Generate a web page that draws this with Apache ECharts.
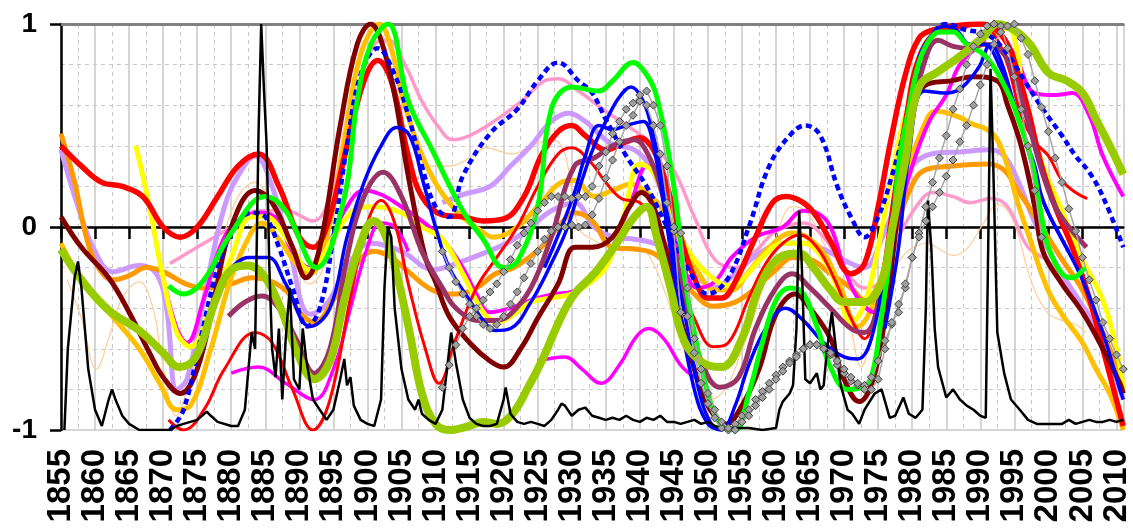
<!DOCTYPE html>
<html>
<head>
<meta charset="utf-8">
<script src="https://cdn.jsdelivr.net/npm/echarts@6/dist/echarts.min.js"></script>
<style>
  html, body { margin: 0; padding: 0; background: #fff; }
  #chart { width: 1133px; height: 529px; }
</style>
</head>
<body>
<div id="chart"></div>
<script>
// axis ranges and tick labels
const yearMin = 1855
const yearMax = 2011
const yTicks = [-1, 0, 1]

// black spiky series [year, value]
const blackLine = [
  [1855.5,-1],[1856,-0.6],[1857,-0.25],[1857.5,-0.17],[1858,-0.3],[1859,-0.7],[1860,-0.9],[1861,-0.98],[1862,-0.85],[1862.5,-0.8],
  [1863,-0.85],[1864,-0.93],[1865,-0.97],[1866.5,-1],[1871,-1],[1872,-0.98],[1873,-0.97],[1874,-0.96],[1875,-0.95],[1876.4,-0.91],
  [1877,-0.93],[1878,-0.96],[1880,-0.98],[1881,-0.98],[1882,-0.9],[1883,-0.52],[1883.5,-0.6],[1884,0.45],[1884.4,1],[1884.8,0.68],
  [1885.2,0.4],[1885.6,-0.2],[1886,-0.6],[1886.5,-0.74],[1887,-0.5],[1887.5,-0.85],[1888,-0.55],[1888.6,-0.3],[1889.2,-0.75],[1890,-0.8],
  [1890.5,-0.5],[1891,-0.65],[1892,-0.85],[1893,-0.9],[1894,-0.95],[1895,-0.9],[1896,-0.75],[1896.6,-0.65],[1897,-0.78],[1897.5,-0.74],
  [1898,-0.88],[1899,-0.95],[1900,-0.97],[1901,-0.98],[1902,-0.85],[1902.5,-0.3],[1903,0],[1903.5,-0.05],[1904,-0.4],[1905,-0.7],
  [1906,-0.85],[1907,-0.9],[1907.5,-0.85],[1908,-0.92],[1909,-0.95],[1910,-0.97],[1911,-0.9],[1912.3,-0.52],[1913,-0.67],[1914,-0.85],
  [1915,-0.94],[1916,-0.97],[1917,-0.98],[1918,-0.98],[1919,-0.97],[1920,-0.85],[1920.3,-0.79],[1921,-0.92],[1922,-0.96],[1923,-0.97],
  [1924,-0.96],[1925,-0.97],[1926,-0.98],[1927,-0.95],[1928,-0.9],[1928.5,-0.87],[1929,-0.88],[1930,-0.93],[1931,-0.9],[1932,-0.89],
  [1933,-0.93],[1934,-0.94],[1935,-0.95],[1936,-0.94],[1937,-0.95],[1938,-0.93],[1939,-0.95],[1940,-0.96],[1941,-0.94],[1942,-0.95],
  [1943,-0.93],[1944,-0.96],[1945,-0.96],[1946,-0.97],[1947,-0.96],[1948,-0.95],[1949,-0.97],[1950,-0.96],[1951,-0.98],[1952,-0.99],
  [1954,-0.99],[1956,-0.99],[1958,-1],[1960,-0.99],[1960.5,-0.9],[1961,-0.86],[1962,-0.82],[1962.5,-0.78],[1963,-0.5],[1963.4,0.08],
  [1963.8,-0.2],[1964.3,-0.75],[1965,-0.77],[1966,-0.72],[1966.5,-0.8],[1967,-0.78],[1967.5,-0.6],[1968.2,-0.42],[1968.8,-0.6],[1969.5,-0.78],
  [1970.5,-0.9],[1971.2,-0.92],[1972.2,-0.97],[1973,-0.9],[1974.5,-0.82],[1975.5,-0.8],[1976.7,-0.94],[1977.5,-0.93],[1978.7,-0.84],[1979.5,-0.92],
  [1980.5,-0.94],[1981.5,-0.9],[1982,-0.4],[1982.3,0.13],[1982.8,-0.1],[1983.3,-0.5],[1983.8,-0.69],[1985,-0.84],[1986,-0.8],[1987,-0.85],
  [1988,-0.88],[1989,-0.9],[1990,-0.93],[1990.8,-0.94],[1991.2,0],[1991.5,0.78],[1991.9,0.3],[1992.5,-0.52],[1993.5,-0.72],[1994.5,-0.85],
  [1995.8,-0.9],[1997,-0.95],[1998.3,-0.97],[2000,-0.97],[2002,-0.97],[2003,-0.95],[2004,-0.97],[2005,-0.96],[2006,-0.95],[2007,-0.96],
  [2008,-0.96],[2009,-0.95],[2010,-0.96],[2011,-0.95]
]

// gray diamond series, one value per year
const grayAStart = 1911
const grayA = [
  -0.12,-0.2,-0.27,-0.33,-0.38,-0.44,-0.48,-0.5,-0.48,-0.44,
  -0.38,-0.32,-0.25,-0.18,-0.12,-0.06,-0.02,0,0,0.01,
  0,0.01,0.06,0.14,0.24,0.33,0.42,0.5,0.55,0.62,
  0.6,0.5,0.36,0.12,-0.02,-0.42,-0.44,-0.62,-0.77,-0.87,
  -0.94,-0.99,-1,-0.97,-0.93,-0.9,-0.85,-0.81,-0.77,-0.73,
  -0.69,-0.66,-0.63,-0.6,-0.58,-0.58,-0.6,-0.63,-0.68,-0.72,
  -0.76,-0.78,-0.78,-0.74,-0.66,-0.56,-0.48,-0.38,-0.3,-0.15,
  -0.03,0.1,0.22,0.34,0.45,0.58,0.68,0.8,0.89,0.95,
  0.99,1,0.99,0.88,0.74,0.58,0.4,0.18,-0.05
]
const grayBStart = 1911
const grayB = [
  -0.79,-0.68,-0.58,-0.5,-0.44,-0.4,-0.36,-0.32,-0.28,-0.22,
  -0.16,-0.09,-0.03,0.02,0.08,0.12,0.15,0.15,0.15,0.14,
  0.15,0.15,0.2,0.3,0.37,0.46,0.52,0.58,0.61,0.65,
  0.67,0.6,0.5,0.3,0,-0.03,-0.3,-0.55,-0.7,-0.82,
  -0.9,-0.96,-0.99,-1,-0.96,-0.93,-0.88,-0.84,-0.8,-0.75,
  -0.71,-0.67,-0.64,-0.6,-0.58,-0.58,-0.6,-0.62,-0.66,-0.7,
  -0.74,-0.77,-0.8,-0.8,-0.75,-0.6,-0.47,-0.42,-0.28,-0.15,
  -0.05,0.03,0.1,0.17,0.25,0.33,0.42,0.5,0.6,0.7,
  0.8,0.9,0.96,0.99,1,0.93,0.85,0.72,0.59,0.47,
  0.34,0.22,0.09,-0.02,-0.15,-0.26,-0.36,-0.47,-0.55,-0.63,
  -0.7
]

// smooth series [year, value]
const peach = [
  [1855.9,-0.26],[1858,-0.45],[1860.2,-0.7],[1862,-0.55],[1864,-0.35],[1866.5,-0.27],[1868.5,-0.4],[1870,-0.69],[1871.9,-0.93],[1873.5,-0.8],
  [1876,-0.5],[1878.5,-0.1],[1881,0.15],[1883.5,0.22],[1886,0.1],[1889,-0.15],[1891.5,-0.28],[1893.5,-0.2],[1896,0.38],[1898.5,0.8],
  [1901,0.98],[1903.5,0.85],[1906,0.55],[1909,0.3],[1912,0.3],[1915,0.34],[1917.4,0.39],[1921.3,0.36],[1924,0.4],[1927.1,0.43],
  [1929,0.36],[1931,0],[1933.5,-0.07],[1936.5,-0.1],[1939.6,-0.1],[1941.5,-0.15],[1944,-0.35],[1946.4,-0.6],[1948.3,-0.79],[1950.2,-0.85],
  [1952.5,-0.8],[1954.5,-0.65],[1957.5,-0.36],[1960.5,0],[1962.4,0.1],[1964.3,0.08],[1966.3,-0.03],[1969,-0.25],[1971,-0.5],[1972.5,-0.69],
  [1974,-0.55],[1976.5,-0.28],[1979,-0.13],[1982.3,-0.08],[1984,-0.11],[1986.1,-0.14],[1988.2,-0.1],[1990.5,0.02],[1992.5,0.11],[1994,0.08],
  [1995.5,-0.03],[1997.3,-0.25],[1999.8,-0.42],[2002,-0.46],[2004,-0.48],[2005.5,-0.52]
]
const pink = [
  [1871,-0.18],[1875,-0.1],[1880,0],[1884,0.08],[1888,0.08],[1892,0.03],[1895,0.2],[1898,0.6],[1901,0.9],[1903,0.92],
  [1905.5,0.8],[1908,0.62],[1910.5,0.49],[1912.5,0.43],[1915,0.45],[1919,0.53],[1923,0.63],[1926,0.72],[1928,0.73],[1931,0.67],
  [1935,0.57],[1939,0.48],[1942,0.4],[1945,0.28],[1948,0.05],[1951,-0.16],[1954,-0.2],[1957,-0.12],[1960,-0.02],[1964,0.02],
  [1967,-0.05],[1970,-0.2],[1973,-0.3],[1976,-0.25],[1978,-0.05],[1981,0.12],[1983,0.17],[1986,0.15],[1988.5,0.12],[1991.5,0.14],
  [1994,0.1],[1997,-0.1],[2000,-0.17],[2003,-0.3],[2006,-0.43],[2008,-0.6],[2010.5,-0.77],[2011,-0.82]
]
const lavA = [
  [1855,0.38],[1857.5,0.1],[1860,-0.12],[1862.6,-0.22],[1866.5,-0.19],[1869,-0.23],[1870.5,-0.4],[1872,-0.8],[1873.5,-0.75],[1876,-0.35],
  [1879,0.1],[1881.5,0.28],[1883.5,0.35],[1886,0.2],[1888.5,-0.1],[1891.6,-0.43],[1894,-0.38],[1897,-0.2],[1900.5,-0.08],[1905,-0.12],
  [1909.7,-0.21],[1913,-0.18],[1917,-0.13],[1921,-0.07],[1924,0],[1927,0.08],[1930.4,0.12],[1933.3,0],[1936.2,-0.05],[1939.2,-0.06],
  [1942,-0.08],[1945,-0.13],[1948,-0.22],[1950.8,-0.3],[1954,-0.23],[1957.5,-0.13],[1961.4,-0.08],[1964,-0.08],[1967,-0.11],[1971,-0.18],
  [1973,-0.2],[1975.5,-0.06],[1977.8,0.13],[1980,0.3],[1982.8,0.36],[1987,0.37],[1991.5,0.38],[1993.5,0.35],[1995.5,0.23],[1998.3,0],
  [2002,-0.23],[2005,-0.39],[2008,-0.57],[2010.4,-0.79],[2011,-0.85]
]
const lavB = [
  [1911,0.12],[1914,0.16],[1918,0.2],[1921,0.3],[1924,0.4],[1927,0.52],[1929.5,0.56],[1932,0.52],[1935.8,0.41],[1939.2,0.38],
  [1941.5,0.3],[1943.5,0.15],[1945.5,0],[1948,-0.2]
]
const orange = [
  [1855,0.46],[1857,0.22],[1858.8,-0.06],[1860.5,-0.2],[1862.6,-0.26],[1865,-0.24],[1867.5,-0.2],[1870,-0.22],[1873.3,-0.28],[1876,-0.3],
  [1880,-0.28],[1883,-0.25],[1886,-0.27],[1888.5,-0.33],[1890,-0.42],[1892.2,-0.47],[1895,-0.36],[1898,-0.2],[1900.9,-0.12],[1903.5,-0.15],
  [1906,-0.22],[1909.5,-0.31],[1913,-0.33],[1916,-0.3],[1918.8,-0.23],[1921.5,-0.2],[1925.5,-0.1],[1928.5,0.02],[1930.4,0.07],[1933,0.03],
  [1936,-0.1],[1939.5,-0.11],[1942,-0.13],[1945,-0.21],[1948,-0.33],[1950.8,-0.39],[1954,-0.37],[1957,-0.3],[1960,-0.21],[1962.4,-0.15],
  [1965,-0.16],[1968,-0.23],[1971,-0.3],[1973,-0.36],[1975.5,-0.25],[1977.5,-0.03],[1979.5,0.17],[1981.8,0.28],[1986,0.3],[1991,0.31],
  [1993.5,0.28],[1995.5,0.18],[1997.5,0.08],[1999.2,-0.01],[2002,-0.16],[2005,-0.31],[2008,-0.52],[2010.4,-0.72],[2011,-0.8]
]
const gold = [
  [1855,-0.08],[1858,-0.26],[1862,-0.42],[1866.5,-0.6],[1869.5,-0.77],[1872,-0.9],[1874,-0.88],[1877,-0.6],[1880,-0.25],[1882.9,-0.03],
  [1884.4,0.02],[1887,-0.06],[1889.5,-0.18],[1891.6,-0.23],[1894,-0.05],[1896.5,0.4],[1899,0.85],[1901.8,1],[1903.5,0.88],[1905.3,0.62],
  [1909,0.28],[1913,0.08],[1916.3,-0.01],[1918.5,-0.05],[1922,0],[1925.5,0.12],[1928.5,0.22],[1930.4,0.23],[1933.3,0.15],[1936,0.18],
  [1938.7,0.21],[1941,0.17],[1943.5,0.08],[1946,-0.06],[1948.5,-0.22],[1951,-0.31],[1953.5,-0.31],[1956,-0.22],[1959,-0.1],[1962.4,-0.03],
  [1964.5,-0.05],[1967,-0.13],[1969.5,-0.3],[1972,-0.49],[1974.5,-0.36],[1977,-0.03],[1979.5,0.3],[1982.3,0.54],[1983.5,0.57],[1987,0.54],
  [1988.6,0.51],[1991,0.48],[1992.5,0.43],[1994,0.3],[1995.4,0.13],[1997.3,-0.06],[1999.8,-0.3],[2002,-0.43],[2005,-0.57],[2007,-0.7],
  [2009,-0.82],[2010.5,-0.95],[2011,-1]
]
const yellow = [
  [1866,0.4],[1868,0.1],[1870,-0.25],[1872,-0.52],[1874,-0.59],[1877,-0.4],[1880,-0.15],[1883,0.05],[1885,0.05],[1888,-0.05],
  [1891.5,-0.21],[1895,-0.05],[1898,0.08],[1901,0.1],[1905,0.07],[1908,0],[1911,-0.06],[1914,-0.23],[1917,-0.42],[1919,-0.47],
  [1921.5,-0.43],[1924,-0.37],[1927,-0.35],[1930,-0.33],[1932,-0.29],[1935,-0.2],[1937.5,0.03],[1940,0.31],[1942,0.27],[1944,0.1],
  [1946,-0.05],[1948,-0.16],[1951,-0.26],[1953,-0.29],[1955,-0.26],[1958,-0.15],[1961,-0.08],[1964,-0.08],[1967,-0.16],[1969,-0.3],
  [1971,-0.47],[1973,-0.38],[1975,-0.1],[1977,0.25],[1979,0.55],[1981,0.68],[1983.5,0.76],[1985.7,0.81],[1988,0.87],[1990,0.92],
  [1992,0.95],[1994,0.98],[1995.5,0.85],[1996.3,0.63],[1999.2,0.3],[2002,0.08],[2005,-0.16],[2008,-0.36],[2010,-0.6],[2011,-0.8]
]
const magentaLow = [
  [1880,-0.72],[1884,-0.69],[1888,-0.77],[1892.2,-0.85],[1895,-0.7],[1897.5,-0.4],[1900,-0.1],[1902,0.02],[1904,0],[1906,-0.12],
  [1915,null],
  [1925,-0.66],[1929,-0.64],[1931.5,-0.7],[1934.3,-0.77],[1937,-0.68],[1939.5,-0.54],[1941.3,-0.5],[1943.5,-0.55],[1946,-0.68],[1948,-0.74]
]
const magenta = [
  [1866,0.4],[1868,0.1],[1870,-0.25],[1872,-0.5],[1873.5,-0.57],[1876,-0.35],[1879,-0.05],[1882,0.05],[1884.5,0.07],[1887,0.03],
  [1889,-0.12],[1891.5,-0.2],[1894,-0.1],[1897,0.1],[1899.5,0.18],[1902,0.16],[1905,0.1],[1908,0.03],[1911,-0.06],[1914,-0.2],
  [1916,-0.33],[1918,-0.42],[1921,-0.4],[1924,-0.36],[1927.5,-0.33],[1930,-0.32],[1933,-0.26],[1936,-0.1],[1939,0.15],[1941,0.3],
  [1943,0.2],[1946,-0.15],[1948.5,-0.3],[1951,-0.27],[1953.5,-0.15],[1957,-0.05],[1961,0],[1964,0.08],[1966,0.07],[1968,0],
  [1970,-0.2],[1972,-0.35],[1974.5,-0.42],[1976,-0.3],[1978,0.05],[1980,0.3],[1982.5,0.52],[1985,0.65],[1987,0.8],[1990,0.9],
  [1992,0.96],[1995,0.85],[1998,0.66],[2001,0.65],[2003.5,0.66],[2006,0.55],[2008,0.35],[2011,0.15]
]
const redThin = [
  [1870.8,-0.95],[1873,-1],[1876,-0.9],[1879,-0.7],[1883.5,-0.52],[1886,-0.57],[1889,-0.8],[1892,-1],[1894.5,-0.85],[1897.5,-0.35],
  [1900,0.02],[1902,0.13],[1904,0.02],[1906,-0.28],[1908.5,-0.6],[1910.5,-0.77],[1913,-0.55],[1916,-0.3],[1919,-0.15],[1922,0],
  [1925,0.2],[1928,0.36],[1930,0.39],[1932.5,0.33],[1935,0.22],[1937.3,0.14],[1940,0.12],[1942.5,0.02],[1945,-0.2],[1948,-0.45],
  [1950.8,-0.59],[1953,-0.57],[1956,-0.35],[1958.5,-0.18],[1961,-0.08],[1963.5,-0.04],[1966,-0.1],[1968.5,-0.25],[1971,-0.45],[1973,-0.55],
  [1975,-0.35],[1977,0.1],[1979,0.55],[1981,0.85],[1984,0.97],[1987,0.98],[1990,1],[1992,0.95],[1994,0.8],[1996,0.55],
  [1998,0.42],[2000,0.35],[2002,0.23],[2004,0.17],[2005.7,0.14]
]
const redSq = [
  [1855,0.4],[1858,0.3],[1861,0.22],[1864,0.2],[1867,0.15],[1870,0],[1872.5,-0.05],[1875,0],[1878,0.15],[1881,0.3],
  [1884,0.36],[1887,0.2],[1890,-0.05],[1892,-0.1],[1894,0],[1897,0.4],[1899.5,0.72],[1901.5,0.82],[1903.5,0.72],[1906,0.35],
  [1908,0.15],[1911,0.06],[1914,0.05],[1917,0.03],[1920,0.04],[1923,0.15],[1925.5,0.35],[1928,0.47],[1930,0.5],[1932,0.45],
  [1935,0.38],[1938,0.42],[1940,0.44],[1942,0.38],[1944,0.2],[1946,-0.05],[1948,-0.25],[1950,-0.35],[1952,-0.35],[1954,-0.27],
  [1957,-0.05],[1959.5,0.12],[1961.5,0.15],[1964,0.12],[1966,0.05],[1968,-0.07],[1971,-0.23],[1973,-0.18],[1975,0.1],[1977,0.45],
  [1979,0.75],[1981,0.93],[1983,0.97],[1986,0.99],[1990,1],[1992,0.98],[1994,0.9],[1995.5,0.76],[1997,0.58],[1999,0.3],
  [2001,0.1],[2003.5,-0.1],[2006,-0.35],[2008,-0.6],[2011,-0.98]
]
const maroon = [
  [1855,0.05],[1858,-0.1],[1862,-0.25],[1865,-0.42],[1868,-0.62],[1870,-0.74],[1872.5,-0.82],[1875,-0.7],[1877.5,-0.35],[1880,0],
  [1883.5,0.18],[1886,0.12],[1889,-0.1],[1891,-0.25],[1893,-0.1],[1896,0.5],[1898.5,0.9],[1900.5,1],[1902,0.92],[1904,0.65],
  [1906,0.25],[1908.5,-0.15],[1910,-0.27],[1912,-0.44],[1915,-0.57],[1918,-0.66],[1920,-0.69],[1922.5,-0.6],[1925,-0.45],[1928,-0.28],
  [1930.5,-0.1],[1933,-0.1],[1936,-0.05],[1938.5,0.1],[1940.2,0.17],[1942,0.1],[1944,-0.15],[1946,-0.45],[1948,-0.7],[1950,-0.88],
  [1952.7,-0.97],[1955,-0.88],[1957.5,-0.7],[1960,-0.43],[1962.8,-0.33],[1965,-0.4],[1968,-0.55],[1970,-0.75],[1972.2,-0.86],[1974,-0.78],
  [1976,-0.45],[1978,0.1],[1980,0.55],[1982,0.7],[1985.7,0.72],[1989,0.74],[1992.5,0.72],[1994,0.6],[1996,0.4],[1998,0.1],
  [1999.2,-0.12],[2002,-0.28],[2005,-0.42],[2008,-0.6],[2010.5,-0.77],[2011,-0.82]
]
const plum = [
  [1879.6,-0.44],[1882,-0.37],[1884.5,-0.34],[1887,-0.4],[1889.5,-0.55],[1892.2,-0.72],[1894.5,-0.6],[1897,-0.15],[1899.5,0.15],[1902.3,0.27],
  [1905,0.15],[1908,-0.12],[1911,-0.3],[1913,-0.4],[1916.3,-0.46],[1919,-0.46],[1921,-0.43],[1924,-0.3],[1927,-0.05],[1930.4,0.3],
  [1933.3,0.34],[1936,0.4],[1939.2,0.43],[1941,0.37],[1943,0.2],[1945,-0.1],[1947,-0.4],[1949,-0.66],[1951.8,-0.79],[1954.5,-0.74],
  [1957,-0.5],[1960,-0.3],[1962.4,-0.23],[1965,-0.3],[1968,-0.4],[1971,-0.5],[1973,-0.52],[1975.5,-0.3],[1977.5,0.13],[1979.5,0.46],
  [1981.5,0.78],[1983.8,0.92],[1986,0.89],[1988.5,0.88],[1990.5,0.9],[1993,0.87],[1995,0.74],[1997,0.52],[1999,0.28],[2001,0.1],
  [2003,0],[2005.6,-0.1]
]
const blueDash = [
  [1871,-1],[1873,-0.9],[1875.5,-0.55],[1878,-0.2],[1880.5,0],[1883,0.07],[1885,0.05],[1887,-0.1],[1889,-0.3],[1891.2,-0.49],
  [1893,-0.4],[1895,-0.05],[1897,0.4],[1899,0.75],[1901.5,0.88],[1904,0.75],[1906,0.55],[1908,0.3],[1910,0.1],[1912,0.05],
  [1914,0.25],[1918,0.46],[1922,0.58],[1925,0.72],[1928,0.81],[1931,0.72],[1933,0.66],[1935,0.53],[1938,0.35],[1941,0.2],
  [1944,0],[1947,-0.2],[1950,-0.33],[1953,-0.25],[1956,0],[1959,0.3],[1962,0.45],[1964.3,0.5],[1966.5,0.45],[1969,0.2],
  [1971,0.05],[1973,-0.05],[1975,0.05],[1977,0.25],[1979,0.5],[1981,0.8],[1983,0.95],[1985,1],[1988,0.97],[1991,0.95],
  [1994,0.85],[1996.5,0.72],[1999,0.59],[2002,0.45],[2004,0.35],[2006,0.27],[2008,0.15],[2011,-0.1]
]
const blueA = [
  [1880,-0.2],[1882.5,-0.15],[1885.4,-0.15],[1888,-0.28],[1891.6,-0.49],[1894.5,-0.4],[1897,-0.05],[1899.5,0.22],[1902,0.4],[1904.3,0.49],
  [1906.2,0.45],[1908.2,0.22],[1910,0],[1912,-0.2],[1915,-0.36],[1917,-0.46],[1918.8,-0.51],[1921,-0.5],[1924,-0.37],[1927,-0.18],
  [1929.4,0],[1931.5,0.23],[1933.3,0.4],[1935,0.52],[1937,0.64],[1938.7,0.69],[1940.5,0.62],[1942,0.45],[1943.5,0.2],[1945,-0.15],
  [1947,-0.5],[1948.5,-0.78],[1950.3,-0.96],[1952,-1],[1954,-0.88],[1956,-0.68],[1958.5,-0.5],[1961.4,-0.4],[1964,-0.46],[1967,-0.57],
  [1970,-0.64],[1972,-0.65],[1974,-0.55],[1976,-0.2],[1977.5,0.14],[1979.5,0.5],[1981,0.83],[1983,0.95],[1984.7,0.99],[1986.5,0.97],
  [1988.5,0.9],[1990.5,0.9],[1993,0.78],[1995,0.6],[1996.3,0.46],[1998,0.3],[1999.2,0.13],[2002,-0.06],[2005,-0.26],[2008,-0.52],
  [2010.4,-0.79],[2011,-0.85]
]
const blueB = [
  [1926,-0.2],[1928.5,0],[1930.4,0.17],[1932,0.35],[1934,0.5],[1936,0.48],[1938,0.5],[1940.5,0.52],[1942,0.4],[1944,0],
  [1946,-0.45],[1948,-0.8],[1950,-0.97],[1952,-1],
  [1964,null],
  [1976,-0.5],[1978,-0.1],[1979.5,0.35],[1981.8,0.67],[1985,0.66],[1987,0.68],[1989,0.75],[1990,0.8],[1991.5,0.9],[1993,0.82],
  [1995,0.6],[1997,0.38],[1999,0.15],[2001,0],[2003,-0.12]
]
const green = [
  [1870.8,-0.29],[1873,-0.33],[1876,-0.26],[1880,-0.03],[1885,0.15],[1888,0.08],[1892.5,-0.2],[1896.5,0.13],[1898.5,0.62],[1900.5,0.9],
  [1903,1],[1906,0.62],[1909.5,0.38],[1914,0.08],[1917,-0.06],[1920,-0.2],[1922,-0.17],[1925,0.1],[1927,0.58],[1930,0.69],
  [1934,0.67],[1936,0.72],[1939,0.81],[1941,0.75],[1942.5,0.64],[1945,0.2],[1946.5,-0.23],[1948,-0.52],[1950,-0.82],[1952,-0.98],
  [1954,-1],[1956,-0.82],[1958,-0.57],[1960,-0.36],[1962,-0.3],[1963.5,-0.31],[1966,-0.49],[1968,-0.69],[1970.5,-0.8],[1972.5,-0.79],
  [1974,-0.74],[1975.5,-0.44],[1977,-0.07],[1978,0.3],[1979.5,0.58],[1981,0.81],[1982.5,0.92],[1984,0.96],[1986,0.96],[1988,0.9],
  [1990.5,0.85],[1992.5,0.76],[1994.5,0.63],[1995.5,0.54],[1997.5,0.33],[1999,0.05],[2000,-0.1],[2002,-0.23],[2003.5,-0.25],[2005.3,-0.2]
]
const olive = [
  [1855,-0.11],[1858,-0.26],[1862,-0.41],[1866.5,-0.51],[1870,-0.62],[1872.3,-0.69],[1874.8,-0.64],[1877.7,-0.36],[1880,-0.21],[1882.5,-0.19],
  [1885,-0.25],[1887.5,-0.42],[1889.7,-0.62],[1892.2,-0.75],[1894.5,-0.66],[1896.6,-0.36],[1899,-0.08],[1900.9,0.03],[1902.5,-0.03],[1904.3,-0.23],
  [1906.2,-0.52],[1908,-0.82],[1910,-0.97],[1912,-1],[1915,-0.98],[1917,-0.96],[1919,-0.97],[1921.3,-0.92],[1923.6,-0.79],[1925.6,-0.66],
  [1928.5,-0.44],[1930.4,-0.33],[1933.3,-0.23],[1936.2,-0.1],[1939.2,0.05],[1941,0.1],[1942.5,-0.05],[1944.5,-0.3],[1946.5,-0.56],[1949.3,-0.67],
  [1952,-0.69],[1955,-0.55],[1957.5,-0.3],[1960.5,-0.15],[1963.4,-0.13],[1965.5,-0.2],[1968,-0.31],[1970,-0.37],[1973,-0.37],[1975.5,-0.27],
  [1977,-0.02],[1979,0.33],[1981,0.69],[1984,0.77],[1987,0.84],[1990.5,0.94],[1992.5,1],[1995,0.97],[1997.3,0.9],[2000,0.76],
  [2002.7,0.72],[2005,0.66],[2007,0.53],[2009,0.4],[2011,0.26]
]

function yearly(start, vals) {
  return vals.map((v, i) => [start + i, v])
}

function smoothLine(name, data, color, width, extra) {
  return Object.assign({
    name: name,
    type: 'line',
    data: data,
    smooth: 0.4,
    showSymbol: false,
    symbol: 'none',
    connectNulls: false,
    silent: true,
    lineStyle: { color: color, width: width }
  }, extra || {})
}

function diamondLine(name, data) {
  return {
    name: name,
    type: 'line',
    data: data,
    silent: true,
    symbol: 'diamond',
    symbolSize: 8,
    showSymbol: true,
    lineStyle: { color: '#A6A6A6', width: 1.5 },
    itemStyle: { color: '#A0A0A0', borderColor: '#404040', borderWidth: 1 }
  }
}

const chart = echarts.init(document.getElementById('chart'))

const series = [
  smoothLine('peach', peach, '#FFCC99', 1.2),
  smoothLine('pink', pink, '#FF99CC', 3.5),
  smoothLine('lavenderA', lavA, '#CC99FF', 5),
  smoothLine('lavenderB', lavB, '#CC99FF', 5),
  smoothLine('orange', orange, '#FF9900', 5),
  smoothLine('gold', gold, '#FFC000', 5),
  smoothLine('magentaLow', magentaLow, '#FF00FF', 3.5),
  smoothLine('magenta', magenta, '#FF00FF', 4),
  smoothLine('yellow', yellow, '#FFFF00', 5),
  smoothLine('redThin', redThin, '#FF0000', 3),
  smoothLine('redSq', redSq, '#FF0000', 5.5),
  smoothLine('maroon', maroon, '#800000', 5),
  smoothLine('plum', plum, '#993366', 5),
  smoothLine('blueDash', blueDash, '#0000FF', 4.5, {
    lineStyle: { color: '#0000FF', width: 4.5, type: [6, 4] }
  }),
  smoothLine('blueA', blueA, '#0000FF', 3.5),
  smoothLine('blueB', blueB, '#0000FF', 3.5),
  smoothLine('green', green, '#00FF00', 5),
  smoothLine('olive', olive, '#99CC00', 8),
  diamondLine('grayA', yearly(grayAStart, grayA)),
  diamondLine('grayB', yearly(grayBStart, grayB)),
  {
    name: 'black', type: 'line', data: blackLine, silent: true,
    symbol: 'none', lineStyle: { color: '#000', width: 2.5 }
  }
]

chart.setOption({
  animation: false,
  backgroundColor: '#fff',
  grid: { left: 61, right: 0, top: 24, bottom: 99 },
  xAxis: [
    {
      type: 'value',
      min: yearMin,
      max: yearMax,
      interval: 5,
      position: 'bottom',
      axisLine: { lineStyle: { color: '#000', width: 2.5 } },
      axisTick: { show: true, length: 12, lineStyle: { color: '#000', width: 2.5 } },
      minorTick: { show: false, splitNumber: 2 },
      axisLabel: {
        rotate: 90,
        showMaxLabel: false,
        margin: 19,
        color: '#000',
        fontSize: 33,
        fontWeight: 'bold',
        fontFamily: 'Liberation Sans, Arial, sans-serif',
        formatter: v => String(v)
      },
      splitLine: { show: true, lineStyle: { color: '#C8C8C8', width: 1.5 } },
      minorSplitLine: { show: true, lineStyle: { color: '#C8C8C8', width: 1, type: [4, 4] } }
    },
    {
      type: 'value',
      min: yearMin,
      max: yearMax,
      position: 'top',
      axisLine: { show: true, lineStyle: { color: '#808080', width: 3 } },
      axisTick: { show: false },
      axisLabel: { show: false },
      splitLine: { show: false }
    }
  ],
  yAxis: {
    type: 'value',
    min: yTicks[0],
    max: yTicks[yTicks.length - 1],
    interval: 1,
    axisLine: { show: true, lineStyle: { color: '#000', width: 2.5 } },
    axisTick: { show: true, length: 11, lineStyle: { color: '#000', width: 2.5 } },
    minorTick: { show: false, splitNumber: 5 },
    axisLabel: {
      margin: 24,
      color: '#000',
      fontSize: 28,
      fontWeight: 'bold',
      fontFamily: 'Liberation Sans, Arial, sans-serif'
    },
    splitLine: { show: true, lineStyle: { color: '#C8C8C8', width: 1.5 } },
    minorSplitLine: { show: true, lineStyle: { color: '#C8C8C8', width: 1, type: [4, 4] } }
  },
  series: series
})
</script>
</body>
</html>
